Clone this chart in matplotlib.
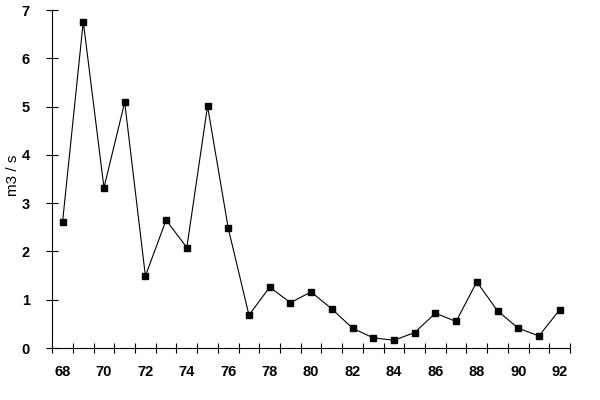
import matplotlib
matplotlib.use("Agg")
import matplotlib.pyplot as plt
import numpy as np

years = [68, 69, 70, 71, 72, 73, 74, 75, 76, 77, 78, 79, 80,
         81, 82, 83, 84, 85, 86, 87, 88, 89, 90, 91, 92]
flow = [2.61, 6.76, 3.32, 5.09, 1.49, 2.65, 2.08, 5.01, 2.48, 0.68, 1.26, 0.94, 1.16,
        0.81, 0.41, 0.21, 0.16, 0.32, 0.72, 0.55, 1.37, 0.77, 0.41, 0.25, 0.79]
tick_years = [68, 70, 72, 74, 76, 78, 80, 82, 84, 86, 88, 90, 92]
yticks = [0, 1, 2, 3, 4, 5, 6, 7]

plt.rcParams['font.family'] = ['Liberation Sans', 'DejaVu Sans']

fig = plt.figure(figsize=(6, 4), dpi=100)
ax = fig.add_axes([0.087, 0.13, 0.863, 0.845])

pos = np.arange(len(years))
ax.plot(pos, flow, color='black', linewidth=0.8, marker='s', markersize=5,
        markerfacecolor='black', markeredgecolor='black')

ax.set_xlim(-0.5, len(years) - 0.5)
ax.set_ylim(0, 7)

ax.spines['top'].set_visible(False)
ax.spines['right'].set_visible(False)
ax.spines['left'].set_linewidth(0.8)
ax.spines['bottom'].set_linewidth(0.8)

# major x: labels at category centers, no tick line
ax.set_xticks([years.index(y) for y in tick_years])
ax.set_xticklabels([str(y) for y in tick_years], fontsize=10.5, fontweight='bold')
ax.tick_params(axis='x', which='major', length=0, pad=12)
# minor x: boundary ticks crossing the axis
ax.set_xticks(np.arange(-0.5, len(years), 1.0), minor=True)
ax.tick_params(axis='x', which='minor', direction='inout', length=7, width=0.8)

ax.set_yticks(yticks)
ax.set_yticklabels([str(v) for v in yticks], fontsize=10.5, fontweight='bold')
ax.tick_params(axis='y', direction='inout', length=8, width=0.8, pad=12)

ax.set_ylabel('m3 / s', fontsize=11)
ax.yaxis.set_label_coords(-0.062, 0.51)

fig.savefig('out.png', dpi=100)
